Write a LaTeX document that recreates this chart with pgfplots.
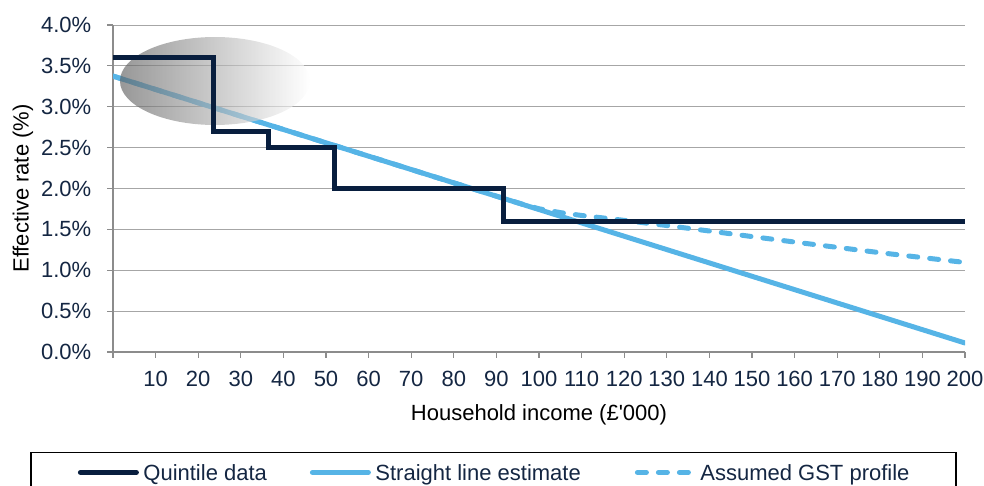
\documentclass[border=0pt]{standalone}
\usepackage{pgfplots}
\pgfplotsset{compat=1.18}
\usepackage{fontspec}
\setmainfont{Liberation Sans}
\definecolor{navy}{RGB}{8,30,62}
\definecolor{navytext}{RGB}{20,38,66}
\definecolor{skyb}{RGB}{86,180,230}
\definecolor{axisgray}{RGB}{140,140,140}
\definecolor{gridgray}{RGB}{166,166,166}
\begin{document}
\fontsize{11}{13}\selectfont
\begin{tikzpicture}
\begin{axis}[
  at={(56.5pt,67pt)}, anchor=south west,
  scale only axis, width=426pt, height=163.5pt,
  xmin=0, xmax=200, ymin=0, ymax=4,
  axis x line*=bottom, axis y line*=left,
  axis line style={axisgray, line width=0.6pt},
  xtick={10,20,...,200}, extra x ticks={0}, extra x tick labels={},
  ytick={0,0.5,1,1.5,2,2.5,3,3.5,4},
  yticklabel={\pgfmathprintnumber[fixed,fixed zerofill,precision=1]{\tick}\%},
  /pgf/number format/assume math mode=true,
  tick align=outside, major tick length=3pt,
  tick style={axisgray, line width=0.6pt},
  ymajorgrids, grid style={gridgray, line width=0.5pt},
  tick label style={font=\fontsize{11}{13}\selectfont, text=navytext},
  yticklabel style={xshift=-4pt},
  xticklabel style={yshift=-2.5pt},
  label style={font=\fontsize{11}{13}\selectfont, text=navytext},
  xlabel={Household income (£\textquotesingle 000)},
  ylabel={Effective rate (\%)},
  every axis x label/.style={at={(axis description cs:0.5,-0.208)}, anchor=base},
  every axis y label/.style={at={(axis description cs:-0.1056,0.5)}, rotate=90, anchor=center},
  legend columns=3,
  legend image code/.code={\path (0pt,0pt) (30.5pt,0pt); \draw[#1] (1.25pt,0pt) -- (29.25pt,0pt);},
  legend style={at={(axis description cs:-0.09624,-0.30795)}, anchor=north west,
    draw=none, fill=none, inner xsep=22pt, inner ysep=5.7pt,
    column sep=0pt,
    nodes={inner sep=0pt, anchor=west, text=navytext, text height=7.9pt, text depth=0pt,
      font=\fontsize{11}{13}\selectfont}},
]
\addlegendimage{navy, line width=2.5pt, line cap=round}
\addlegendentry{\makebox[83pt][l]{\hspace{1pt}Quintile data}}
\addlegendimage{skyb, line width=2.5pt, line cap=round}
\addlegendentry{\makebox[129.5pt][l]{\hspace{1pt}Straight line estimate}}
\addlegendimage{skyb, line width=2.5pt, line cap=round, dash pattern=on 4.5pt off 6pt}
\addlegendentry{\makebox[100pt][l]{\hspace{1pt}Assumed GST profile}}

\addplot[forget plot, skyb, line width=2.5pt, line cap=round] coordinates {(0,3.375) (200,0.11)};
\addplot[forget plot, skyb, line width=2.5pt, line cap=round, dash pattern=on 4.5pt off 6pt] coordinates {
(0,3.375) (90,1.906) (96,1.810) (100,1.752) (105,1.705) (110,1.670) (120,1.610) (130,1.547)
(140,1.480) (150,1.412) (160,1.345) (170,1.280) (180,1.215) (190,1.155) (200,1.095)};
\shade[left color=black!62, right color=white, opacity=0.65]
  (axis cs:23.94,3.315) ellipse [x radius=22.3, y radius=0.538];
\addplot[forget plot, navy, line width=2.5pt, line join=miter] coordinates {
(0,3.6) (23.6,3.6) (23.6,2.7) (36.5,2.7) (36.5,2.5) (52.0,2.5) (52.0,2.0)
(91.6,2.0) (91.6,1.6) (200,1.6)};
\end{axis}
\draw[black, line width=0.6pt] (15.5pt,-10pt) rectangle (478pt,16.65pt);
\pgfresetboundingbox
\useasboundingbox (0,0) rectangle (492pt,243pt);
\end{tikzpicture}
\end{document}
